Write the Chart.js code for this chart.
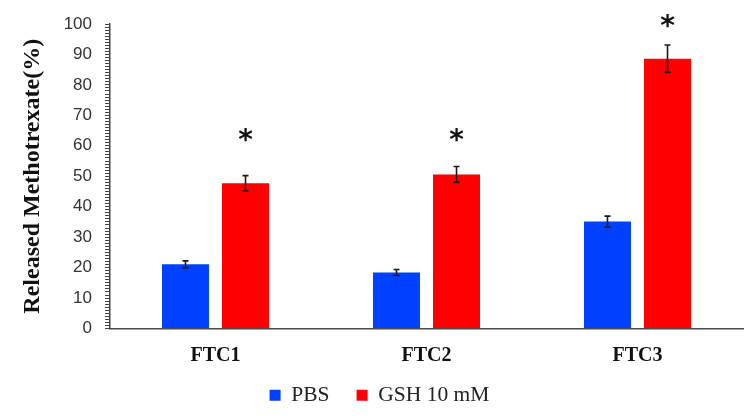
<!DOCTYPE html>
<html>
<head>
<meta charset="utf-8">
<script src="https://cdn.jsdelivr.net/npm/chart.js@4/dist/chart.umd.min.js"></script>
<style>
  html, body { margin: 0; padding: 0; background: #fff; }
  #wrap { width: 756px; height: 416px; }
</style>
</head>
<body>
<div id="wrap"><canvas id="chartRelease" width="756" height="416"></canvas></div>
<script>
// Данные графика
const categories = ['FTC1', 'FTC2', 'FTC3'];
const pbsValues = [21.1, 18.4, 35.1];
const pbsErrors = [1.1, 1.0, 1.8];
const gshValues = [47.7, 50.6, 88.6];
const gshErrors = [2.5, 2.6, 4.5];
// высота звёздочек значимости (в единицах оси Y)
const starLevels = [63.7, 63.4, 100.9];

const errorsByDataset = [pbsErrors, gshErrors];

// Подгонка после раскладки: легенду чуть вправо, подписи оси X не обрезать
const layoutTweakPlugin = {
    id: 'layoutTweak',
    afterLayout(chart) {
        chart.legend.left += 8;
        chart.legend.right += 8;
        const xs = chart.scales.x;
        xs.bottom = xs.top + 40;
        xs.height = 40;
    }
};

// Планка погрешностей + звёздочки над красными столбцами
const errorBarsPlugin = {
    id: 'errorBars',
    afterDatasetsDraw(chart) {
        const ctx = chart.ctx;
        const yScale = chart.scales.y;

        chart.data.datasets.forEach((ds, di) => {
            const meta = chart.getDatasetMeta(di);
            meta.data.forEach((bar, i) => {
                const v = ds.data[i];
                const e = errorsByDataset[di][i];
                const top = yScale.getPixelForValue(v + e);
                const bottom = yScale.getPixelForValue(v - e);
                ctx.save();
                ctx.strokeStyle = '#1a1a1a';
                ctx.lineWidth = 1.6;
                ctx.beginPath();
                ctx.moveTo(bar.x, top);
                ctx.lineTo(bar.x, bottom);
                ctx.moveTo(bar.x - 3, top);
                ctx.lineTo(bar.x + 3, top);
                ctx.moveTo(bar.x - 3, bottom);
                ctx.lineTo(bar.x + 3, bottom);
                ctx.stroke();
                ctx.restore();
            });
        });

        const redMeta = chart.getDatasetMeta(1);
        ctx.save();
        ctx.fillStyle = '#111';
        ctx.font = 'bold 28px "DejaVu Sans"';
        ctx.textAlign = 'center';
        ctx.textBaseline = 'alphabetic';
        const m = ctx.measureText('*');
        redMeta.data.forEach((bar, i) => {
            const cy = yScale.getPixelForValue(starLevels[i]);
            ctx.fillText('*', bar.x, cy + (m.actualBoundingBoxAscent - m.actualBoundingBoxDescent) / 2);
        });
        ctx.restore();
    }
};

new Chart(
    document.getElementById('chartRelease'),
    {
        type: 'bar',
        data: {
            labels: categories,
            datasets: [
                {
                    label: 'PBS',
                    data: pbsValues,
                    backgroundColor: '#0040ff'
                },
                {
                    label: 'GSH 10 mM',
                    data: gshValues,
                    backgroundColor: '#ff0000'
                }
            ]
        },
        options: {
            responsive: false,
            animation: false,
            layout: {
                padding: { left: 0, right: 13, top: 24, bottom: 0 }
            },
            datasets: {
                bar: {
                    categoryPercentage: 0.569,
                    barPercentage: 0.783
                }
            },
            plugins: {
                legend: {
                    display: true,
                    position: 'bottom',
                    labels: {
                        boxWidth: 11,
                        boxHeight: 11,
                        padding: 27,
                        color: '#222',
                        font: { family: '"Liberation Serif"', size: 21.5 }
                    }
                },
                tooltip: { enabled: false }
            },
            scales: {
                x: {
                    afterFit(scale) { scale.height = 29; },
                    grid: { display: false, drawTicks: false },
                    border: { display: true, color: '#4a4a4a', width: 1.5 },
                    ticks: {
                        color: '#111',
                        padding: 15,
                        font: { family: '"Liberation Serif"', size: 20, weight: 'bold' }
                    }
                },
                y: {
                    min: 0,
                    max: 100,
                    afterFit(scale) { scale.width = 110; },
                    grid: {
                        drawOnChartArea: false,
                        drawTicks: true,
                        tickLength: 5,
                        color: '#444',
                        lineWidth: 1
                    },
                    border: { display: true, color: '#444', width: 1.5 },
                    ticks: {
                        stepSize: 1,
                        autoSkip: false,
                        padding: 13,
                        color: '#333',
                        font: { family: '"Liberation Sans"', size: 17 },
                        callback: function (v) { return v % 10 === 0 ? v : ''; }
                    },
                    title: {
                        display: true,
                        text: 'Released Methotrexate(%)',
                        color: '#111',
                        padding: { top: 18.6, bottom: 0 },
                        font: { family: '"Liberation Serif"', size: 24, weight: 'bold' }
                    }
                }
            }
        },
        plugins: [layoutTweakPlugin, errorBarsPlugin]
    }
);
</script>
</body>
</html>
